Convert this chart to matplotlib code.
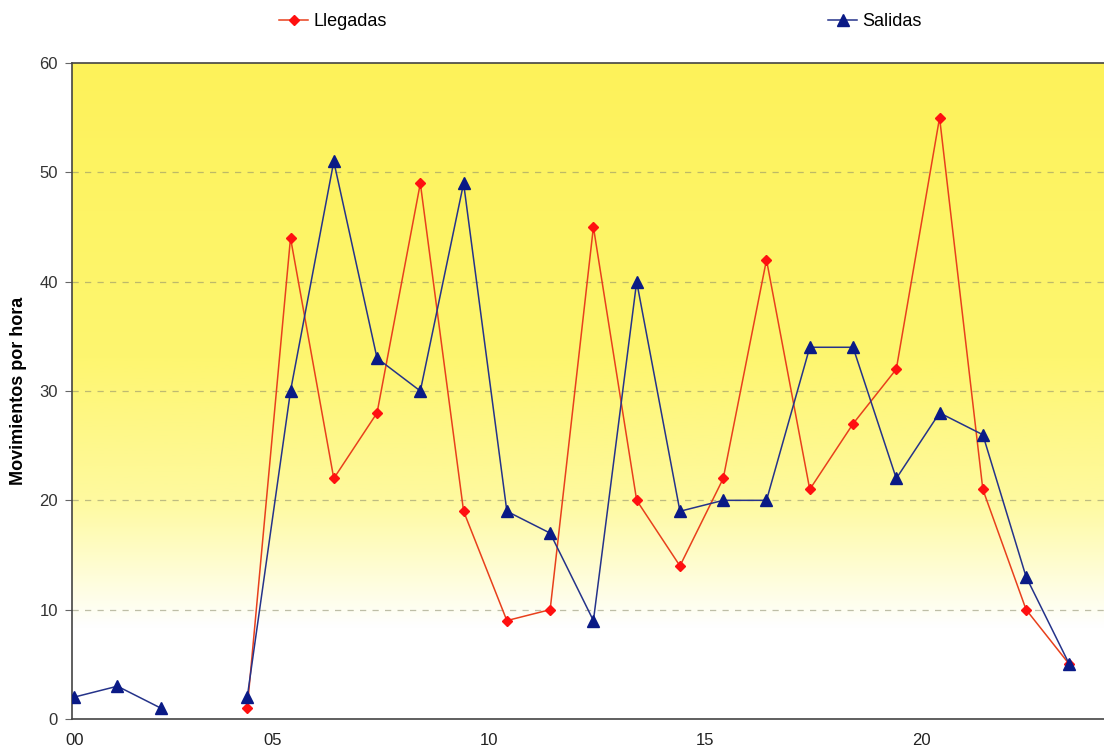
import numpy as np
import matplotlib.pyplot as plt
from matplotlib.colors import LinearSegmentedColormap
from matplotlib.lines import Line2D
import matplotlib.transforms as mtransforms

plt.rcParams['font.family'] = ['Liberation Sans', 'DejaVu Sans']

hours = list(range(24))
tick_hours = [0, 5, 10, 15, 20]
tick_labels = ['00', '05', '10', '15', '20']

nan = np.nan
llegadas = [nan, nan, nan, nan, 1, 44, 22, 28, 49, 19, 9, 10, 45, 20, 14, 22, 42, 21, 27, 32, 55, 21, 10, 5]
salidas = [2, 3, 1, nan, 2, 30, 51, 33, 30, 49, 19, 17, 9, 40, 19, 20, 20, 34, 34, 22, 28, 26, 13, 5]

fig = plt.figure(figsize=(11.04, 7.55), dpi=100)
ax = fig.add_axes([72 / 1104, 1 - 719 / 755, 1 - 72 / 1104, (719 - 63) / 755])

# yellow to white background gradient
cmap = LinearSegmentedColormap.from_list(
    'bg', [(0.0, '#ffffff'), (0.14, '#ffffff'), (0.33, '#fefaa0'),
           (0.55, '#fef670'), (1.0, '#fdf25a')])
grad = np.linspace(0, 1, 256).reshape(-1, 1)
ax.imshow(grad, cmap=cmap, aspect='auto', origin='lower',
          extent=[0, 1, 0, 1], transform=ax.transAxes, zorder=0)

ax.plot(hours, llegadas, color='#e8401c', lw=1.1, marker='D', ms=5,
        mfc='#ff1010', mec='#ff1010', zorder=3)
ax.plot(hours, salidas, color='#25338a', lw=1.1, marker='^', ms=8,
        mfc='#0a1a86', mec='#0a1a86', zorder=3)

ax.set_xlim(-0.05, 23.8)
ax.set_ylim(0, 60)
ax.set_yticks(range(0, 61, 10))
ax.set_xticks(tick_hours)
ax.set_xticklabels(tick_labels)
ax.tick_params(axis='x', length=0, pad=10, labelsize=12, labelcolor='#222222')
ax.tick_params(axis='y', length=5, direction='out', pad=5, labelsize=12,
               labelcolor='#333333', color='#666666')
shift = mtransforms.ScaledTranslation(-18 / 100, 0, fig.dpi_scale_trans)
for lbl in ax.get_xticklabels()[1:]:
    lbl.set_transform(lbl.get_transform() + shift)

for v in range(10, 60, 10):
    ax.axhline(v, color='#8a8a6a', lw=0.9, ls=(0, (5, 5)), alpha=0.55, zorder=1)

for s in ['left', 'bottom', 'top']:
    ax.spines[s].set_color('#444444')
    ax.spines[s].set_linewidth(1.2)
ax.spines['right'].set_visible(False)

ax.set_ylabel('Movimientos por hora', fontsize=13, fontweight='bold')
ax.yaxis.set_label_coords((27 - 72) / 1032, 0.5)

h1 = Line2D([], [], color='#e8401c', lw=1.1, marker='D', ms=5, mfc='#ff1010', mec='#ff1010')
h2 = Line2D([], [], color='#25338a', lw=1.1, marker='^', ms=8, mfc='#0a1a86', mec='#0a1a86')
fig.legend([h1], ['Llegadas'], loc='center left', bbox_to_anchor=(263 / 1104, 1 - 22 / 755),
           frameon=False, fontsize=13, handlelength=1.6, handletextpad=0.3)
fig.legend([h2], ['Salidas'], loc='center left', bbox_to_anchor=(812 / 1104, 1 - 22 / 755),
           frameon=False, fontsize=13, handlelength=1.6, handletextpad=0.3)

fig.savefig('out.png', dpi=100)
